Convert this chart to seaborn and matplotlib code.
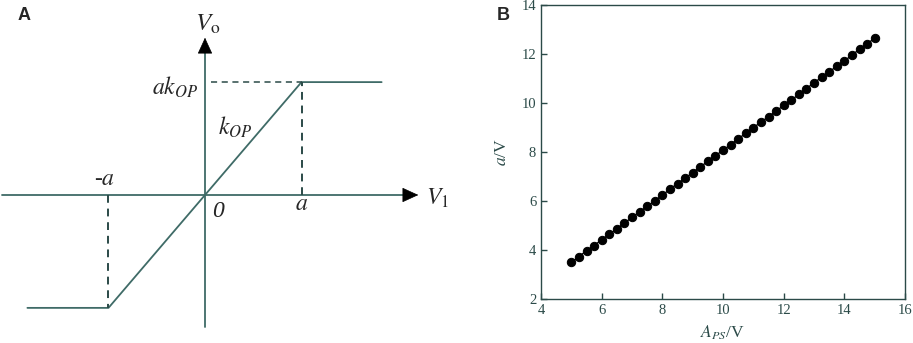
import numpy as np
import pandas as pd
import seaborn as sns
import matplotlib.pyplot as plt

sns.set_style("white")
plt.rcParams['font.family'] = ['Liberation Serif', 'DejaVu Serif']
plt.rcParams['mathtext.fontset'] = 'stix'

# panel A: saturating characteristic, in units of a
curve_x = [-1.84, -1.0, 1.0, 1.83]
curve_y = [-1.17, -1.17, 1.17, 1.17]
a_val = 1.0
ak_val = 1.17

# panel B: threshold a against A_PS
aps = [5.0, 5.25, 5.5, 5.75, 6.0, 6.25, 6.5, 6.75, 7.0, 7.25, 7.5, 7.75,
       8.0, 8.25, 8.5, 8.75, 9.0, 9.25, 9.5, 9.75, 10.0, 10.25, 10.5, 10.75,
       11.0, 11.25, 11.5, 11.75, 12.0, 12.25, 12.5, 12.75, 13.0, 13.25, 13.5,
       13.75, 14.0, 14.25, 14.5, 14.75, 15.0]
a_out = [3.49, 3.73, 3.97, 4.18, 4.42, 4.64, 4.87, 5.10, 5.33, 5.56, 5.78, 6.00,
         6.24, 6.48, 6.71, 6.93, 7.16, 7.39, 7.62, 7.85, 8.07, 8.30, 8.54, 8.76,
         8.99, 9.22, 9.44, 9.67, 9.90, 10.12, 10.35, 10.59, 10.82, 11.05, 11.27,
         11.50, 11.71, 11.96, 12.19, 12.42, 12.64]

teal = '#3f6b67'
dark = '#2b4a48'

fig = plt.figure(figsize=(9.13, 3.43), dpi=100)

# ---- panel A
axA = fig.add_axes([0, 0, 460 / 913, 1])
axA.set_xlim(-2.124, 2.642)
axA.set_ylim(-1.534, 2.021)
axA.axis('off')

dfA = pd.DataFrame({'x': curve_x, 'y': curve_y})
sns.lineplot(data=dfA, x='x', y='y', sort=False, color=teal, lw=1.3, ax=axA)

# axes lines, then black arrow heads at the tips
axA.plot([-2.10, 2.12], [0, 0], color=teal, lw=1.3)
axA.plot([0, 0], [-1.37, 1.55], color=teal, lw=1.3)
head = dict(arrowstyle='-|>,head_length=0.7,head_width=0.32', lw=0.5,
            mutation_scale=15, fc='black', ec='black', shrinkA=0, shrinkB=0)
axA.annotate('', xy=(2.21, 0), xytext=(2.10, 0), arrowprops=head)
axA.annotate('', xy=(0, 1.63), xytext=(0, 1.53), arrowprops=head)

# dashed guides
axA.plot([a_val, a_val], [0, ak_val], ls=(0, (4, 3)), color=dark, lw=1.4)
axA.plot([0.06, a_val], [ak_val, ak_val], ls=(0, (4, 3)), color=dark, lw=1.1)
axA.plot([-a_val, -a_val], [0, -ak_val], ls=(0, (4, 3)), color=dark, lw=1.4)

axA.text(0.03, 1.77, r'$V_{\mathrm{o}}$', fontsize=18, ha='center', va='center')
axA.text(2.29, -0.03, r'$V_{1}$', fontsize=17, ha='left', va='center')
axA.text(-0.07, 1.12, r'$ak_{OP}$', fontsize=17, ha='right', va='center')
axA.text(0.13, 0.70, r'$k_{OP}$', fontsize=17, ha='left', va='center')
axA.text(-1.04, 0.16, r'-$a$', fontsize=17, ha='center', va='center')
axA.text(0.14, -0.17, '0', fontsize=17, style='italic', ha='center', va='center')
axA.text(1.0, -0.10, r'$a$', fontsize=17, ha='center', va='center')

fig.text(18 / 913, 1 - 15 / 343, 'A', fontsize=13, fontweight='bold',
         family='Liberation Sans', ha='left', va='center')

# ---- panel B
axB = fig.add_axes([541 / 913, 44 / 343, 364 / 913, 294 / 343])
dfB = pd.DataFrame({'aps': aps, 'a': a_out})
sns.lineplot(data=dfB, x='aps', y='a', color='black', lw=1.0,
             marker='o', markersize=6, markeredgecolor='black', ax=axB)
axB.set_xlim(4, 16)
axB.set_ylim(2, 14)
axB.set_xticks(np.arange(4, 17, 2))
axB.set_yticks(np.arange(2, 15, 2))
for sp in axB.spines.values():
    sp.set_color(dark)
    sp.set_linewidth(1.0)
axB.tick_params(direction='in', length=4, width=1.0, color=dark,
                labelcolor=dark, labelsize=10.5, bottom=True, left=True,
                top=False, right=False)
axB.set_xlabel(r'$A_{PS}$/V', fontsize=12.5, color=dark, labelpad=5)
axB.set_ylabel(r'$a$/V', fontsize=12.5, color=dark, labelpad=8)

fig.text(497 / 913, 1 - 15 / 343, 'B', fontsize=13, fontweight='bold',
         family='Liberation Sans', ha='left', va='center')

fig.savefig('out.png', dpi=100)
